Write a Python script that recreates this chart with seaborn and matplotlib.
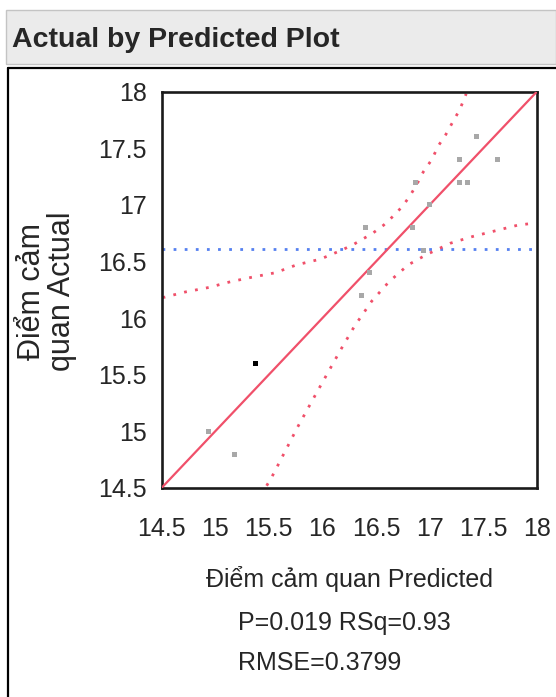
import matplotlib
matplotlib.use("Agg")
import numpy as np
import pandas as pd
import seaborn as sns
import matplotlib.pyplot as plt
from matplotlib import font_manager
from matplotlib.patches import Rectangle
from matplotlib.lines import Line2D

# ----------------------
# Data
# ----------------------
predicted = [14.94, 15.18, 15.38, 16.40, 16.36, 16.44, 16.84, 16.87,
             17.00, 16.94, 17.28, 17.28, 17.35, 17.44, 17.63]
actual = [15.0, 14.8, 15.6, 16.8, 16.2, 16.4, 16.8, 17.2,
          17.0, 16.6, 17.4, 17.2, 17.2, 17.6, 17.4]
selected = [False, False, True, False, False, False, False, False,
            False, False, False, False, False, False, False]

fit_x = [14.5, 18.0]

# confidence curves
upper_x = [14.51, 14.72, 14.94, 15.14, 15.34, 15.56, 15.76, 15.98, 16.18, 16.29,
           16.38, 16.47, 16.57, 16.66, 16.74, 16.81, 16.88, 16.94, 17.02, 17.08,
           17.15, 17.22, 17.28, 17.34]
upper_y = [16.18, 16.23, 16.27, 16.32, 16.36, 16.40, 16.47, 16.52, 16.60, 16.65,
           16.70, 16.75, 16.82, 16.90, 16.98, 17.07, 17.18, 17.29, 17.40, 17.52,
           17.62, 17.74, 17.84, 17.98]
lower_x = [15.48, 15.53, 15.65, 15.77, 15.91, 16.04, 16.17, 16.30, 16.46, 16.62,
           16.80, 16.97, 17.19, 17.40, 17.61, 17.82, 17.99]
lower_y = [14.52, 14.60, 14.82, 15.04, 15.28, 15.50, 15.72, 15.93, 16.15, 16.32,
           16.47, 16.56, 16.66, 16.72, 16.77, 16.82, 16.84]

ticks = [14.5, 15, 15.5, 16, 16.5, 17, 17.5, 18]
tick_labels = ["14.5", "15", "15.5", "16", "16.5", "17", "17.5", "18"]

title = "Actual by Predicted Plot"
x_label = "Điểm cảm quan Predicted"
y_label = "Điểm cảm\nquan Actual"
stats = ["P=0.019 RSq=0.93", "RMSE=0.3799"]

# ----------------------
# Style
# ----------------------
sns.set_style("white")
names = {f.name for f in font_manager.fontManager.ttflist}
if "Liberation Sans Narrow" in names:
    NARROW = "Liberation Sans Narrow"
    sz_title, sz_tick, sz_text = 24.5, 21.5, 22
else:
    NARROW = "Liberation Sans"
    sz_title, sz_tick, sz_text = 20.5, 18, 18
plt.rcParams["font.family"] = [NARROW, "DejaVu Sans"]

RED = "#f0506a"
BLUE = "#5580f0"
DOTS = (0, (1, 3))
W, H = 556, 697

fig = plt.figure(figsize=(W / 100, H / 100), dpi=100)

# title bar and outline box
fig.add_artist(Rectangle((6 / W, 1 - 64 / H), (W - 6) / W, 54 / H,
                         transform=fig.transFigure, facecolor="#ebebeb",
                         edgecolor="#c4c4c4", lw=1))
fig.add_artist(Line2D([8 / W, 8 / W], [0, 1 - 68 / H], transform=fig.transFigure,
                      color="black", lw=1.6))
fig.add_artist(Line2D([8 / W, 1], [1 - 68 / H, 1 - 68 / H], transform=fig.transFigure,
                      color="black", lw=1.6))
fig.text(12 / W, 1 - 47 / H, title, fontsize=sz_title, fontweight="bold",
         va="baseline", ha="left")

ax = fig.add_axes([161.5 / W, 1 - 488 / H, 375.5 / W, 396.5 / H])

df = pd.DataFrame({"Predicted": predicted, "Actual": actual, "sel": selected})

# mean line
ax.axhline(np.mean(actual), color=BLUE, lw=2.0, ls=DOTS, zorder=1)
# confidence curves
sns.lineplot(x=upper_x, y=upper_y, ax=ax, color=RED, lw=2.0,
             linestyle=DOTS, estimator=None, sort=False, zorder=2)
sns.lineplot(x=lower_x, y=lower_y, ax=ax, color=RED, lw=2.0,
             linestyle=DOTS, estimator=None, sort=False, zorder=2)
# fit line
sns.lineplot(x=fit_x, y=fit_x, ax=ax, color=RED, lw=1.6, estimator=None, zorder=3)
# points
sns.scatterplot(data=df[~df["sel"]], x="Predicted", y="Actual", ax=ax,
                marker="s", s=13, color="#a8a8a8", edgecolor="none", zorder=4)
sns.scatterplot(data=df[df["sel"]], x="Predicted", y="Actual", ax=ax,
                marker="s", s=13, color="black", edgecolor="none", zorder=5)

ax.set_xlim(14.5, 18)
ax.set_ylim(14.5, 18)
ax.set_xticks(ticks)
ax.set_xticklabels(tick_labels)
ax.set_yticks(ticks)
ax.set_yticklabels(tick_labels)
ax.set_xlabel("")
ax.set_ylabel("")
for sp in ax.spines.values():
    sp.set_linewidth(1.9)
    sp.set_color("#1a1a1a")
ax.tick_params(axis="x", direction="out", length=12, width=1.5, pad=9,
               labelsize=sz_tick, color="#1a1a1a")
ax.tick_params(axis="y", direction="out", length=9.5, width=1.5, pad=1,
               labelsize=sz_tick, color="#1a1a1a")

fig.text(349 / W, 1 - 587 / H, x_label, fontsize=sz_text, ha="center", va="baseline")
fig.text(238 / W, 1 - 630 / H, stats[0], fontsize=sz_text, ha="left", va="baseline")
fig.text(238 / W, 1 - 670 / H, stats[1], fontsize=sz_text, ha="left", va="baseline")
fig.text(47 / W, 1 - 291 / H, y_label, fontsize=22, family=["Liberation Sans", "DejaVu Sans"],
         rotation=90, ha="center", va="center", multialignment="center", linespacing=1.0)

fig.savefig("out.png", dpi=100)
